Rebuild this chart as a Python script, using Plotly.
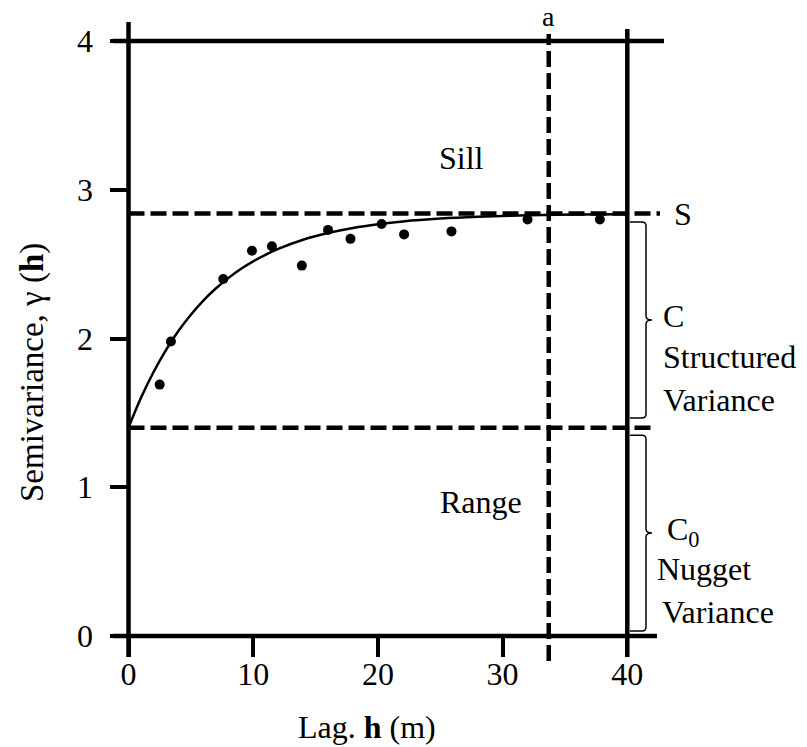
import plotly.graph_objects as go

# Experimental semivariogram (lag in m, semivariance)
lag_h = [2.5, 3.4, 7.6, 9.9, 11.5, 13.9, 16.0, 17.8, 20.3, 22.1, 25.9, 32.0, 37.8]
gamma_h = [1.69, 1.98, 2.40, 2.59, 2.62, 2.49, 2.73, 2.67, 2.77, 2.70, 2.72, 2.80, 2.80]

# Fitted model curve
model_h = [0, 1, 2, 3, 4, 5, 6, 7, 8, 9, 10, 12, 14, 16, 18, 20, 22, 25, 28, 32, 36, 40]
model_gamma = [1.400, 1.601, 1.773, 1.922, 2.050, 2.160, 2.255, 2.336, 2.406, 2.467, 2.519,
               2.602, 2.664, 2.709, 2.743, 2.768, 2.787, 2.806, 2.818, 2.828, 2.834, 2.836]

# Variogram parameters
sill = 2.84
nugget = 1.40
range_a = 33.7

x_ticks = [0, 10, 20, 30, 40]
y_ticks = [0, 1, 2, 3, 4]
x_max = 40
y_max = 4

# Page geometry: the plot area covers the whole page, axes are placed inside it
W, H = 807, 747
X0_PX, X_SCALE = 128.5, 12.47
Y0_PX, Y_SCALE = 636.0, 148.75

def dx(px):
    return (px - X0_PX) / X_SCALE

def dy(py):
    return (Y0_PX - py) / Y_SCALE

x_range = [dx(0), dx(W)]
y_range = [dy(H), dy(0)]

FONT = "Liberation Serif"
BLACK = "#000000"

fig = go.Figure()

fig.add_trace(go.Scatter(
    x=model_h, y=model_gamma, mode="lines",
    line=dict(color=BLACK, width=2.5, shape="spline", smoothing=1.0),
    hoverinfo="skip", showlegend=False,
))
fig.add_trace(go.Scatter(
    x=lag_h, y=gamma_h, mode="markers",
    marker=dict(color=BLACK, size=10, symbol="circle"),
    showlegend=False,
))

shapes = []
solid = dict(color=BLACK, width=4.5)
dashed = dict(color=BLACK, width=4.5, dash="16px,6px")

# frame lines
shapes.append(dict(type="line", xref="x", yref="y", x0=0, x1=0, y0=dy(657), y1=dy(22), line=solid))
shapes.append(dict(type="line", xref="x", yref="y", x0=x_max, x1=x_max, y0=dy(657), y1=dy(29), line=solid))
shapes.append(dict(type="line", xref="x", yref="y", x0=dx(113), x1=dx(664), y0=y_max, y1=y_max, line=solid))
shapes.append(dict(type="line", xref="x", yref="y", x0=dx(113), x1=dx(657), y0=0, y1=0, line=solid))

# sill, nugget and range guides
shapes.append(dict(type="line", xref="x", yref="y", x0=0, x1=dx(660), y0=sill, y1=sill, line=dashed))
shapes.append(dict(type="line", xref="x", yref="y", x0=0, x1=dx(656), y0=nugget, y1=nugget, line=dashed))
shapes.append(dict(type="line", xref="x", yref="y", x0=range_a, x1=range_a, y0=dy(661), y1=dy(34), line=dashed))

# curly braces marking C and C0
def brace(y_top, y_bot):
    xl, xs, xt = dx(630), dx(646), dx(652)
    rx, ry = 4 / X_SCALE, 4 / Y_SCALE
    ym = (y_top + y_bot) / 2
    path = (f"M {xl},{y_top} L {xs - rx},{y_top} Q {xs},{y_top} {xs},{y_top - ry} "
            f"L {xs},{ym + ry} Q {xs},{ym} {xt},{ym} Q {xs},{ym} {xs},{ym - ry} "
            f"L {xs},{y_bot + ry} Q {xs},{y_bot} {xs - rx},{y_bot} L {xl},{y_bot}")
    return dict(type="path", xref="x", yref="y", path=path, line=dict(color=BLACK, width=1.5))

shapes.append(brace(sill - 0.057, nugget + 0.066))
shapes.append(brace(nugget - 0.05, 0.034))

annotations = []

def label(text, px, py, xanchor="center", size=32, angle=0):
    annotations.append(dict(
        text=text, x=dx(px), y=dy(py), xref="x", yref="y", showarrow=False,
        xanchor=xanchor, yanchor="middle", textangle=angle,
        font=dict(family=FONT, size=size, color=BLACK),
    ))

label("a", 548, 16, size=28)
label("S", 683, 214)
label("Sill", 461, 158)
label("Range", 481, 502)
label("C", 661, 316, xanchor="left")
label("Structured", 661, 357, xanchor="left")
label("Variance", 661, 400, xanchor="left")
label("C<sub>0</sub>", 665, 531, xanchor="left")
label("Nugget", 655, 569, xanchor="left")
label("Variance", 660, 612, xanchor="left")
label("Lag. <b>h</b> (m)", 367, 727)
label("Semivariance, γ (<b>h</b>)", 32, 373, size=33, angle=-90)

fig.update_layout(
    width=W, height=H,
    margin=dict(l=0, r=0, t=0, b=0),
    paper_bgcolor="white", plot_bgcolor="white",
    showlegend=False,
    shapes=shapes,
    annotations=annotations,
    font=dict(family=FONT, color=BLACK),
    xaxis=dict(
        range=x_range, anchor="free",
        position=(0 - y_range[0]) / (y_range[1] - y_range[0]),
        tickvals=x_ticks, ticktext=[str(v) for v in x_ticks],
        ticks="outside", ticklen=20, tickwidth=3.5, tickcolor=BLACK,
        ticklabelstandoff=-10,
        showgrid=False, zeroline=False, showline=False,
        tickfont=dict(family=FONT, size=32, color=BLACK),
    ),
    yaxis=dict(
        range=y_range, anchor="free",
        position=(0 - x_range[0]) / (x_range[1] - x_range[0]),
        tickvals=y_ticks, ticktext=[str(v) for v in y_ticks],
        ticks="outside", ticklen=19, tickwidth=3.5, tickcolor=BLACK,
        ticklabelstandoff=10,
        showgrid=False, zeroline=False, showline=False,
        tickfont=dict(family=FONT, size=32, color=BLACK),
    ),
)

fig.write_html("out.html")
